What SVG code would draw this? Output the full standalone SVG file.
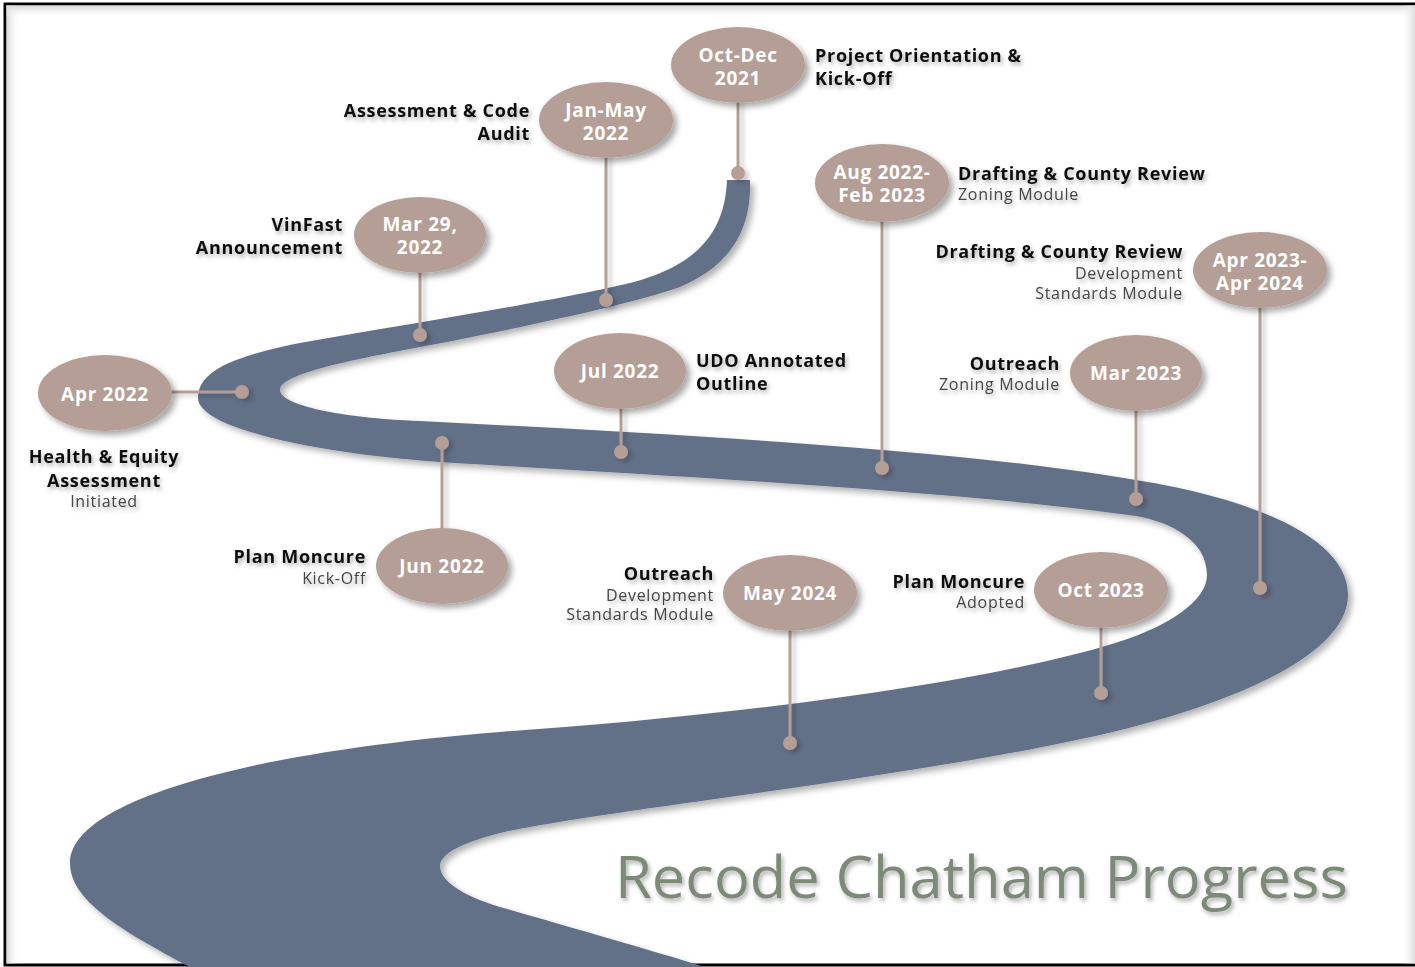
<svg xmlns="http://www.w3.org/2000/svg" width="1415" height="967" viewBox="0 0 1415 967">
<defs>
<style>
.ell{fill:#b49e95}
.et{font-family:"Open Sans","Noto Sans",sans-serif;font-weight:700;font-size:19px;letter-spacing:0.7px;fill:#ffffff;text-anchor:middle}
.lb{font-family:"Open Sans","Noto Sans",sans-serif;font-weight:700;font-size:18px;letter-spacing:0.7px;fill:#111111}
.sub{font-family:"Open Sans","Noto Sans",sans-serif;font-weight:400;font-size:16px;letter-spacing:0.7px;fill:#444444}
.r{text-anchor:end}
.m{text-anchor:middle}
.conn line{stroke:#b49e95;stroke-width:3}
.conn circle{fill:#b49e95}
</style>
<filter id="sh" x="-20%" y="-20%" width="140%" height="140%">
<feDropShadow dx="4" dy="4" stdDeviation="3" flood-color="#000" flood-opacity="0.35"/>
</filter>
<filter id="rsh" x="-10%" y="-10%" width="120%" height="120%">
<feDropShadow dx="4" dy="4" stdDeviation="3" flood-color="#000" flood-opacity="0.3"/>
</filter>
<filter id="tsh" x="-10%" y="-30%" width="120%" height="160%">
<feDropShadow dx="2" dy="3" stdDeviation="2" flood-color="#000" flood-opacity="0.3"/>
</filter>
<filter id="lsh" x="-200%" y="-10%" width="500%" height="120%">
<feDropShadow dx="4" dy="3" stdDeviation="2" flood-color="#000" flood-opacity="0.2"/>
</filter>
<linearGradient id="gl" x1="0" y1="0" x2="1" y2="0"><stop offset="0" stop-color="#d6d6d6"/><stop offset="1" stop-color="#ffffff" stop-opacity="0"/></linearGradient>
<linearGradient id="gt" x1="0" y1="0" x2="0" y2="1"><stop offset="0" stop-color="#d6d6d6"/><stop offset="1" stop-color="#ffffff" stop-opacity="0"/></linearGradient>
<linearGradient id="gr" x1="0" y1="0" x2="1" y2="0"><stop offset="0" stop-color="#ffffff" stop-opacity="0"/><stop offset="1" stop-color="#dcdcdc"/></linearGradient>
</defs>

<g id="frame">
<rect x="5" y="4" width="1420" height="961" fill="#ffffff" stroke="#000" stroke-width="3"/>
<rect x="6.5" y="5.5" width="13" height="958" fill="url(#gl)"/>
<rect x="6.5" y="5.5" width="1410" height="13" fill="url(#gt)"/>
<rect x="1401" y="5.5" width="14" height="958" fill="url(#gr)"/>
</g>

<g id="road">
<path filter="url(#rsh)" fill="#627088" d="M 727,180 L 750,180 C 752,235 725,268 680,287 C 630,305 500,332 420,347 C 340,362 280,375 280,390 C 280,405 340,418 420,421 C 650,433 950,448 1136,480 C 1260,500 1348,540 1348,595 C 1348,650 1250,700 1100,735 C 900,780 600,810 500,833 C 465,842 440,853 440,866 C 440,880 460,895 500,907 C 580,930 650,950 705,967 L 190,967 C 120,930 70,900 70,863 C 70,800 250,752 500,732 C 700,718 950,690 1102,647 C 1170,628 1207,600 1207,575 C 1207,540 1170,522 1136,516 C 950,490 650,475 440,462 C 330,455 198,430 198,398 C 198,372 230,357 300,343 C 420,322 560,300 630,283 C 700,265 725,230 727,180 Z"/>
</g>

<g id="connectors" class="conn" filter="url(#lsh)">
<line x1="738" y1="100" x2="738" y2="173"/><circle cx="738" cy="173" r="7"/>
<line x1="606" y1="155" x2="606" y2="300"/><circle cx="606" cy="300" r="7"/>
<line x1="420" y1="270" x2="420" y2="335"/><circle cx="420" cy="335" r="7"/>
<line x1="170" y1="392" x2="242" y2="392"/><circle cx="242" cy="392" r="7"/>
<line x1="442" y1="443" x2="442" y2="530"/><circle cx="442" cy="443" r="7"/>
<line x1="621" y1="406" x2="621" y2="452"/><circle cx="621" cy="452" r="7"/>
<line x1="882" y1="220" x2="882" y2="468"/><circle cx="882" cy="468" r="7"/>
<line x1="1260" y1="305" x2="1260" y2="588"/><circle cx="1260" cy="588" r="7"/>
<line x1="1136" y1="408" x2="1136" y2="499"/><circle cx="1136" cy="499" r="7"/>
<line x1="1101" y1="625" x2="1101" y2="693"/><circle cx="1101" cy="693" r="7"/>
<line x1="790" y1="628" x2="790" y2="743"/><circle cx="790" cy="743" r="7"/>
</g>

<g id="n-oct2021">
<ellipse class="ell" cx="738" cy="65" rx="67" ry="38" filter="url(#sh)"/>
<text class="et" x="738" y="62">Oct-Dec</text><text class="et" x="738" y="85">2021</text>
<g filter="url(#tsh)"><text class="lb" x="815" y="62">Project Orientation &amp;</text><text class="lb" x="815" y="85">Kick-Off</text></g>
</g>

<g id="n-janmay2022">
<ellipse class="ell" cx="606" cy="120" rx="67" ry="38" filter="url(#sh)"/>
<text class="et" x="606" y="117">Jan-May</text><text class="et" x="606" y="140">2022</text>
<g filter="url(#tsh)"><text class="lb r" x="530" y="117">Assessment &amp; Code</text><text class="lb r" x="530" y="140">Audit</text></g>
</g>

<g id="n-mar2022">
<ellipse class="ell" cx="420" cy="235" rx="66" ry="38" filter="url(#sh)"/>
<text class="et" x="420" y="231">Mar 29,</text><text class="et" x="420" y="254">2022</text>
<g filter="url(#tsh)"><text class="lb r" x="343" y="231">VinFast</text><text class="lb r" x="343" y="254">Announcement</text></g>
</g>

<g id="n-apr2022">
<ellipse class="ell" cx="105" cy="393" rx="67" ry="38" filter="url(#sh)"/>
<text class="et" x="105" y="401">Apr 2022</text>
<g filter="url(#tsh)"><text class="lb m" x="104" y="463">Health &amp; Equity</text><text class="lb m" x="104" y="487">Assessment</text><text class="sub m" x="104" y="507">Initiated</text></g>
</g>

<g id="n-jun2022">
<ellipse class="ell" cx="442" cy="566" rx="66" ry="38" filter="url(#sh)"/>
<text class="et" x="442" y="573">Jun 2022</text>
<g filter="url(#tsh)"><text class="lb r" x="366" y="563">Plan Moncure</text><text class="sub r" x="366" y="584">Kick-Off</text></g>
</g>

<g id="n-jul2022">
<ellipse class="ell" cx="620" cy="371" rx="66" ry="38" filter="url(#sh)"/>
<text class="et" x="620" y="378">Jul 2022</text>
<g filter="url(#tsh)"><text class="lb" x="696" y="367">UDO Annotated</text><text class="lb" x="696" y="390">Outline</text></g>
</g>

<g id="n-aug2022">
<ellipse class="ell" cx="882" cy="183" rx="67" ry="39" filter="url(#sh)"/>
<text class="et" x="882" y="179">Aug 2022-</text><text class="et" x="882" y="202">Feb 2023</text>
<g filter="url(#tsh)"><text class="lb" x="958" y="180">Drafting &amp; County Review</text><text class="sub" x="958" y="200">Zoning Module</text></g>
</g>

<g id="n-apr2023">
<ellipse class="ell" cx="1260" cy="270" rx="67" ry="38" filter="url(#sh)"/>
<text class="et" x="1260" y="267">Apr 2023-</text><text class="et" x="1260" y="290">Apr 2024</text>
<g filter="url(#tsh)"><text class="lb r" x="1183" y="258">Drafting &amp; County Review</text><text class="sub r" x="1183" y="279">Development</text><text class="sub r" x="1183" y="299">Standards Module</text></g>
</g>

<g id="n-mar2023">
<ellipse class="ell" cx="1136" cy="373" rx="66" ry="38" filter="url(#sh)"/>
<text class="et" x="1136" y="380">Mar 2023</text>
<g filter="url(#tsh)"><text class="lb r" x="1060" y="370">Outreach</text><text class="sub r" x="1060" y="390">Zoning Module</text></g>
</g>

<g id="n-oct2023">
<ellipse class="ell" cx="1101" cy="590" rx="67" ry="38" filter="url(#sh)"/>
<text class="et" x="1101" y="597">Oct 2023</text>
<g filter="url(#tsh)"><text class="lb r" x="1025" y="588">Plan Moncure</text><text class="sub r" x="1025" y="608">Adopted</text></g>
</g>

<g id="n-may2024">
<ellipse class="ell" cx="790" cy="593" rx="67" ry="38" filter="url(#sh)"/>
<text class="et" x="790" y="600">May 2024</text>
<g filter="url(#tsh)"><text class="lb r" x="714" y="580">Outreach</text><text class="sub r" x="714" y="601">Development</text><text class="sub r" x="714" y="620">Standards Module</text></g>
</g>

<g id="title" filter="url(#tsh)">
<text x="615" y="898" textLength="733" lengthAdjust="spacingAndGlyphs" style="font-family:'Open Sans','Noto Sans',sans-serif;font-weight:400;font-size:58px;fill:#7d8a79">Recode Chatham Progress</text>
</g>
</svg>
